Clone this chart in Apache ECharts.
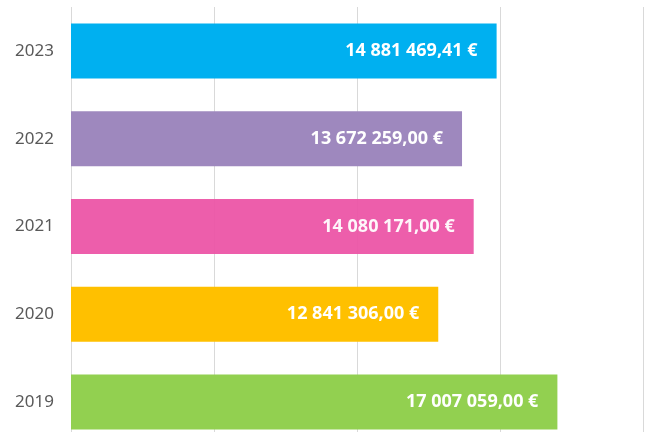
<!DOCTYPE html>
<html>
<head>
<meta charset="utf-8">
<script src="https://cdn.jsdelivr.net/npm/echarts@6/dist/echarts.min.js"></script>
<style>
html, body { margin: 0; padding: 0; background: #fff; }
#container { width: 649px; height: 432px; }
</style>
</head>
<body>
<div id="container"></div>
<script>
// bottom to top, like the picture reads upward
var years = ['2019', '2020', '2021', '2022', '2023'];
var amounts = [17007059.00, 12841306.00, 14080171.00, 13672259.00, 14881469.41];
var barColors = ['#92D050', '#FFC000', '#EC55A6', '#9E88BE', '#00B0F0'];

// 14 881 469,41 €
function formatEuro(v) {
	var parts = v.toFixed(2).split('.');
	var intPart = parts[0].replace(/\B(?=(\d{3})+(?!\d))/g, ' ');
	return intPart + ',' + parts[1] + ' €';
}

var myChart = echarts.init(document.getElementById('container'));

var data = [];
for (var i = 0; i < amounts.length; i++) {
	var item = { value: amounts[i], itemStyle: { color: barColors[i] } };
	if (years[i] === '2021') {
		item.itemStyle.opacity = 0.95;
	}
	data.push(item);
}

var option = {
	animation: false,
	grid: {
		left: 71,
		right: 6,
		top: 7,
		height: 439,
		outerBoundsMode: 'none'
	},
	xAxis: {
		type: 'value',
		min: 0,
		max: 20000000,
		interval: 5000000,
		axisLabel: { show: false },
		axisLine: { show: false },
		axisTick: { show: false },
		splitLine: { lineStyle: { color: '#d9d9d9', width: 1 } }
	},
	yAxis: {
		type: 'category',
		data: years,
		axisLine: { show: false },
		axisTick: { show: false },
		axisLabel: {
			margin: 17,
			color: '#595959',
			fontSize: 17,
			fontFamily: 'Noto Sans'
		}
	},
	series: [{
		type: 'bar',
		data: data,
		barWidth: 55,
		label: {
			show: true,
			position: 'insideRight',
			distance: 19,
			color: '#fff',
			fontSize: 18,
			fontWeight: 'bold',
			fontFamily: 'Noto Sans',
			formatter: function(p) { return formatEuro(p.value); }
		}
	}]
};
myChart.setOption(option);
</script>
</body>
</html>
